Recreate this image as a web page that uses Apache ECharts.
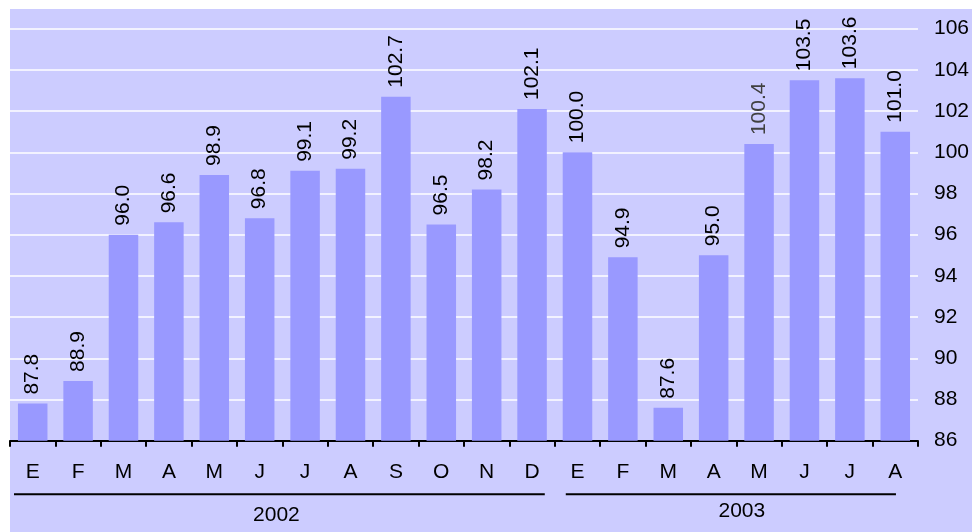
<!DOCTYPE html>
<html>
<head>
<meta charset="utf-8">
<script src="https://cdn.jsdelivr.net/npm/echarts@6/dist/echarts.min.js"></script>
<style>
html,body{margin:0;padding:0;background:#ffffff;width:972px;height:532px;overflow:hidden;}
#bg{position:absolute;left:10px;top:9px;right:0;bottom:0;background:#CCCCFF;}
#main{position:absolute;left:0;top:0;width:972px;height:532px;}
</style>
</head>
<body>
<div id="bg"></div>
<div id="main"></div>
<script>
const months = ['E','F','M','A','M','J','J','A','S','O','N','D','E','F','M','A','M','J','J','A'];
const values = [87.8, 88.9, 96.0, 96.6, 98.9, 96.8, 99.1, 99.2, 102.7, 96.5, 98.2, 102.1,
                100.0, 94.9, 87.6, 95.0, 100.4, 103.5, 103.6, 101.0];
const years = ['2002', '2003'];
const yearStart = [0, 12];
const yearEnd = [11, 19];
const yTicks = {min: 86, max: 106, interval: 2};

const FONT = '"Liberation Sans", Arial, sans-serif';
const FS = 21;
const chart = echarts.init(document.getElementById('main'), null, {renderer: 'canvas'});

const option = {
  backgroundColor: 'transparent',
  animation: false,
  textStyle: {fontFamily: FONT},
  grid: {left: 10, right: 54, top: 28.7, bottom: 91.3, containLabel: false},
  xAxis: {
    type: 'category',
    data: months,
    axisLine: {lineStyle: {color: '#000', width: 2}},
    axisTick: {show: true, length: 6, lineStyle: {color: '#000', width: 2}},
    axisLabel: {color: '#000', fontSize: FS, fontFamily: FONT, margin: 21, interval: 0},
    splitLine: {show: false}
  },
  yAxis: {
    type: 'value',
    position: 'right',
    min: yTicks.min, max: yTicks.max, interval: yTicks.interval,
    axisLine: {show: false},
    axisTick: {show: false},
    axisLabel: {color: '#000', fontSize: FS, fontFamily: FONT, margin: 16},
    splitLine: {show: true, lineStyle: {color: '#ffffff', width: 1.5}}
  },
  series: [{
    type: 'bar',
    data: values.map((v, i) => ({
      value: v,
      label: i === 16 ? {color: '#404040'} : undefined
    })),
    barCategoryGap: '35%',
    itemStyle: {color: '#9999FF'},
    label: {
      show: true,
      position: 'top',
      rotate: 90,
      align: 'left',
      verticalAlign: 'middle',
      distance: 9,
      fontSize: FS,
      fontFamily: FONT,
      color: '#000',
      formatter: p => Number(p.value).toFixed(1)
    }
  }]
};
chart.setOption(option);

// Year group annotations positioned from the category axis scale
const c0 = chart.convertToPixel({xAxisIndex: 0}, 0);
const c1 = chart.convertToPixel({xAxisIndex: 0}, 1);
const bw = c1 - c0;
const lineY = 494.3;
const insets = [[4, 10], [11, 22]];
const labelShift = [-3, 11];
const labelY = [515.7, 511];
const graphics = [];
years.forEach((yr, k) => {
  const x1 = chart.convertToPixel({xAxisIndex: 0}, yearStart[k]) - bw / 2 + insets[k][0];
  const x2 = chart.convertToPixel({xAxisIndex: 0}, yearEnd[k]) + bw / 2 - insets[k][1];
  graphics.push({
    type: 'line',
    shape: {x1: x1, y1: lineY, x2: x2, y2: lineY},
    style: {stroke: '#000', lineWidth: 2}
  });
  graphics.push({
    type: 'text',
    x: (x1 + x2) / 2 + labelShift[k],
    y: labelY[k],
    style: {text: yr, font: FS + 'px ' + FONT, fill: '#000', align: 'center', verticalAlign: 'middle'}
  });
});
chart.setOption({graphic: graphics});
</script>
</body>
</html>
